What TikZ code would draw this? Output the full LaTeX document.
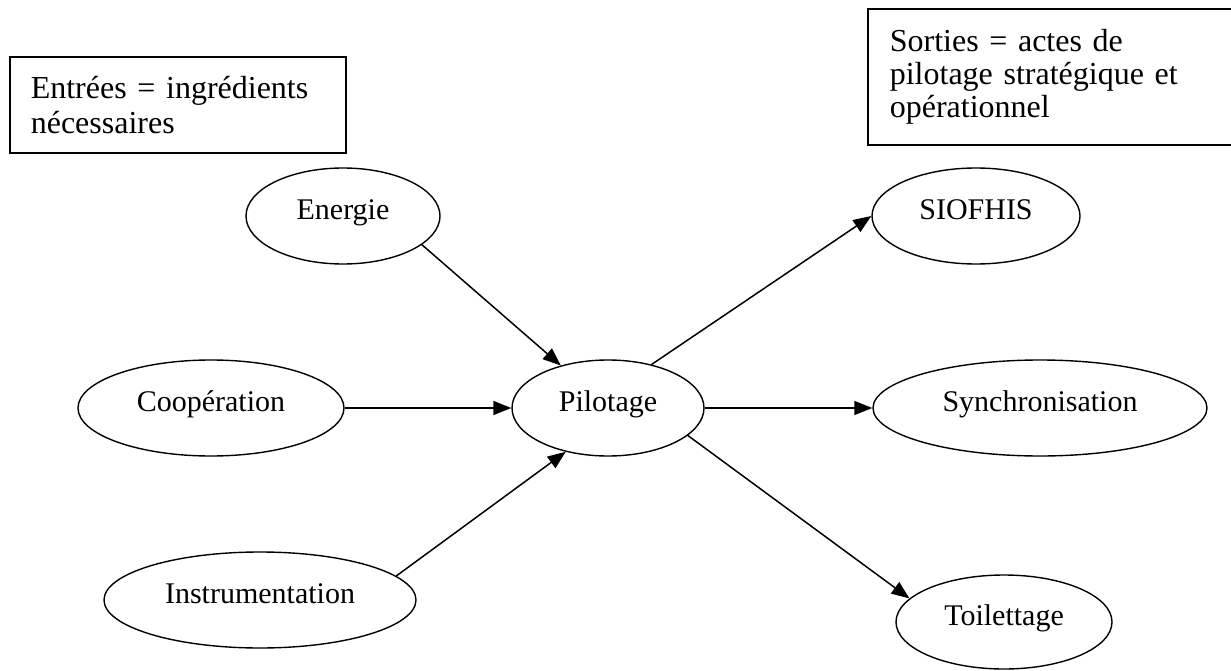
\documentclass[tikz,border=0pt]{standalone}
\usepackage{fontspec}
\setmainfont{Liberation Serif}
\usetikzlibrary{arrows.meta, shapes.geometric}

\begin{document}
\begin{tikzpicture}[x=1pt, y=-1pt,
  bloc/.style={ellipse, draw=black, line width=1.4pt, inner sep=0pt,
    minimum height=96pt, font=\fontsize{30}{34}\selectfont,
    text height=18pt, text depth=12pt},
  cadre/.style={rectangle, draw=black, line width=1.6pt, anchor=north west,
    align=left, inner xsep=21pt},
  fleche/.style={-{Triangle[length=18pt, width=14pt]}, line width=1.5pt}
]
  \useasboundingbox (0,0) rectangle (1231,671);

  % Text boxes (the right one runs off the page)
  \node[cadre, minimum width=336pt, minimum height=96pt, text width=294pt,
    font=\fontsize{32}{35}\selectfont] (entrees) at (9,56)
    {Entrées = ingrédients\\nécessaires};
  \node[cadre, minimum width=430pt, minimum height=136pt, text width=386pt,
    font=\fontsize{32}{33}\selectfont] (sorties) at (867,8)
    {Sorties = actes de\\pilotage stratégique et\\opérationnel};

  % Inputs
  \node[bloc, minimum width=194pt] (energie) at (343,216) {Energie};
  \node[bloc, minimum width=266pt] (cooperation) at (211,408) {Coopération};
  \node[bloc, minimum width=312pt] (instrumentation) at (260,600) {Instrumentation};

  % Centre
  \node[bloc, minimum width=192pt] (pilotage) at (608,408) {Pilotage};

  % Outputs
  \node[bloc, minimum width=208pt] (siofhis) at (976,216) {SIOFHIS};
  \node[bloc, minimum width=334pt] (synchro) at (1040,408) {Synchronisation};
  \node[bloc, minimum width=216pt, minimum height=94pt] (toilettage) at (1004,622) {Toilettage};

  % Arrows in
  \draw[fleche] (energie.-20) -- (pilotage.138);
  \draw[fleche] (cooperation.east) -- (pilotage.west);
  \draw[fleche] (instrumentation.10) -- (pilotage.226);

  % Arrows out
  \draw[fleche] (pilotage.45) -- (siofhis.west);
  \draw[fleche] (pilotage.east) -- (synchro.west);
  \draw[fleche] (pilotage.-19) -- (toilettage.166);
\end{tikzpicture}
\end{document}
